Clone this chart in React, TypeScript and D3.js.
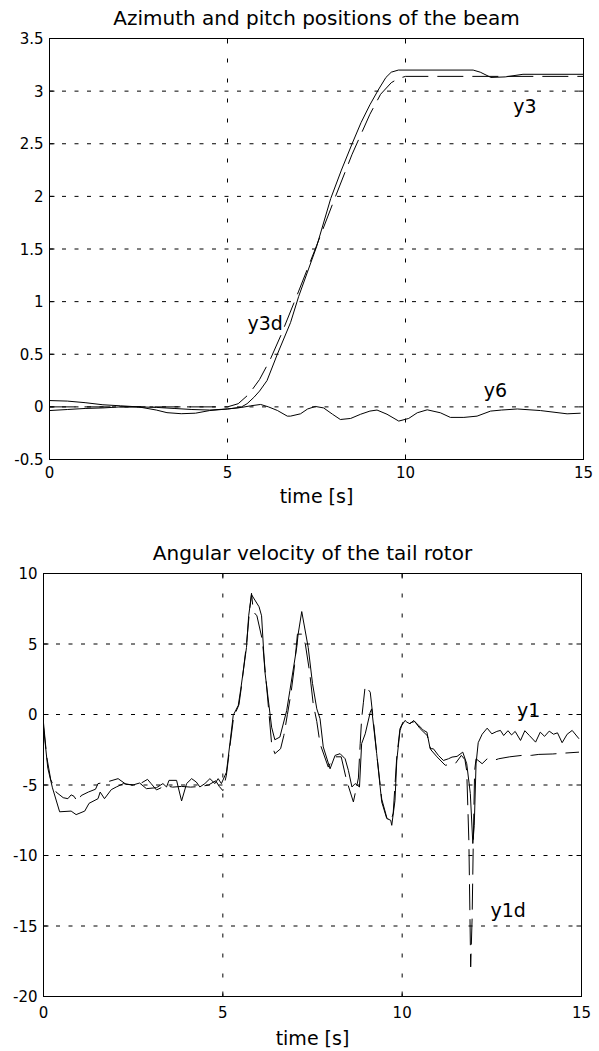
import React from "react";
import * as d3 from "d3";

type Pt = [number, number];

// ---------- data ----------
const timeTicks = [0, 5, 10, 15];
const timeTickLabels = ["0", "5", "10", "15"];
const posTicks = [-0.5, 0, 0.5, 1, 1.5, 2, 2.5, 3, 3.5];
const posTickLabels = ["-0.5", "0", "0.5", "1", "1.5", "2", "2.5", "3", "3.5"];
const velTicks = [-20, -15, -10, -5, 0, 5, 10];
const velTickLabels = ["-20", "-15", "-10", "-5", "0", "5", "10"];

const topTitle = "Azimuth and pitch positions of the beam";
const bottomTitle = "Angular velocity of the tail rotor";
const xAxisLabel = "time [s]";

// azimuth (y3, measured) [time, rad]
const y3: Pt[] = [
  [0, 0.06], [0.5, 0.055], [1, 0.04], [1.5, 0.02], [2, 0.01], [2.5, 0.0], [3, -0.03],
  [3.3, -0.055], [3.7, -0.065], [4.1, -0.06], [4.5, -0.035], [5, -0.02], [5.37, -0.005],
  [5.55, 0.03], [5.74, 0.09], [5.9, 0.15], [6.11, 0.25], [6.4, 0.5], [6.77, 0.8],
  [7.0, 1.05], [7.5, 1.52], [7.9, 1.98], [8.2, 2.25], [8.5, 2.5], [8.75, 2.7],
  [9.0, 2.87], [9.25, 3.02], [9.45, 3.13], [9.6, 3.18], [9.8, 3.2], [11.9, 3.2],
  [12.1, 3.18], [12.4, 3.13], [12.8, 3.135], [13.3, 3.16], [15, 3.16],
];

// azimuth reference (y3d)
const y3d: Pt[] = [
  [0, 0], [5, 0], [5.3, 0.03], [5.6, 0.12], [5.9, 0.26], [6.2, 0.45], [6.5, 0.68],
  [7, 1.1], [7.5, 1.53], [8, 1.97], [8.5, 2.4], [9, 2.78], [9.3, 2.97], [9.6, 3.08],
  [9.8, 3.12], [10, 3.14], [15, 3.14],
];

// pitch (y6)
const y6: Pt[] = [
  [0, -0.035], [0.5, -0.025], [1, -0.015], [1.5, -0.01], [2, 0.0], [2.5, 0.0], [3, -0.005],
  [3.5, -0.015], [4, -0.025], [4.5, -0.03], [5, -0.02], [5.4, -0.005], [5.65, 0.01],
  [5.93, 0.023], [6.15, 0.0], [6.4, -0.034], [6.68, -0.088], [6.77, -0.088], [7.05, -0.066],
  [7.25, -0.02], [7.47, 0.004], [7.7, -0.01], [7.95, -0.07], [8.17, -0.12], [8.46, -0.11],
  [8.74, -0.07], [9.0, -0.04], [9.2, -0.03], [9.48, -0.07], [9.81, -0.135], [10.09, -0.11],
  [10.33, -0.056], [10.61, -0.028], [10.98, -0.056], [11.26, -0.1], [11.64, -0.1],
  [12.01, -0.088], [12.39, -0.04], [12.7, -0.03], [13.14, -0.02], [13.79, -0.035],
  [14.54, -0.066], [14.92, -0.06],
];

// tail rotor angular velocity (y1, measured)
const y1: Pt[] = [
  [0, -0.9], [0.12, -3.8], [0.25, -5.2], [0.45, -6.9], [0.77, -6.85], [0.91, -7.1],
  [1.15, -6.85], [1.27, -6.3], [1.52, -5.97], [1.58, -5.5], [1.7, -5.97], [1.89, -5.33],
  [2.03, -5.14], [2.23, -4.9], [2.49, -5.0], [2.68, -4.86], [2.87, -5.26], [3.15, -5.19],
  [3.33, -4.9], [3.43, -5.14], [3.5, -4.67], [3.71, -4.67], [3.85, -6.13], [3.99, -4.9],
  [4.13, -4.55], [4.26, -4.79], [4.36, -5.14], [4.5, -4.9], [4.64, -4.55], [4.78, -4.9],
  [4.87, -4.55], [4.96, -4.9], [5.1, -4.1], [5.2, -2.0], [5.29, -0.05], [5.43, 0.64],
  [5.5, 1.8], [5.66, 4.76], [5.72, 7.0], [5.8, 8.5], [6.01, 7.64], [6.08, 7.0],
  [6.17, 3.1], [6.36, -0.9], [6.45, -1.79], [6.59, -1.6], [6.78, 0.28], [6.87, 1.7],
  [7.06, 4.76], [7.1, 5.7], [7.2, 7.3], [7.38, 4.76], [7.5, 2.2], [7.62, 0.4],
  [7.71, -0.3], [7.8, -2.3], [7.99, -3.85], [8.13, -2.9], [8.27, -2.78], [8.41, -3.14],
  [8.5, -3.96], [8.6, -5.14], [8.69, -4.9], [8.81, -5.14], [8.87, -2.07], [8.97, -1.37],
  [9.11, 0.16], [9.15, 0.4], [9.29, -2.78], [9.43, -6.2], [9.57, -7.38], [9.68, -7.5],
  [9.71, -7.86], [9.8, -6.1], [9.85, -3.26], [9.94, -1.13], [9.99, -0.78], [10.08, -0.42],
  [10.13, -0.54], [10.22, -0.66], [10.32, -0.42], [10.46, -0.78], [10.55, -1.0],
  [10.6, -1.13], [10.69, -1.25], [10.78, -2.43], [10.87, -2.43], [11.01, -2.9],
  [11.15, -3.26], [11.29, -3.14], [11.39, -3.02], [11.53, -2.97], [11.69, -2.67],
  [11.8, -3.49], [11.9, -5.6], [11.97, -9.15], [12.01, -7.86], [12.06, -3.5], [12.12, -2.0],
  [12.23, -1.4], [12.37, -0.97], [12.5, -1.37], [12.64, -1.2], [12.74, -1.13],
  [12.83, -1.49], [12.95, -1.15], [13.05, -1.45], [13.15, -1.2], [13.3, -1.84],
  [13.42, -1.15], [13.55, -1.5], [13.72, -1.96], [13.85, -1.25], [13.97, -1.55],
  [14.1, -1.18], [14.22, -1.4], [14.33, -1.3], [14.46, -2.0], [14.6, -1.4], [14.74, -1.13],
  [14.93, -1.72],
];

// tail rotor reference (y1d)
const y1d: Pt[] = [
  [0, -0.6], [0.09, -3.0], [0.2, -4.6], [0.35, -5.5], [0.55, -5.9], [0.68, -5.97],
  [0.77, -5.7], [0.85, -5.8], [0.95, -6.2], [1.05, -5.75], [1.25, -5.5], [1.45, -5.3],
  [1.52, -4.9], [1.75, -4.8], [2.08, -4.55], [2.3, -4.95], [2.5, -5.0], [2.7, -4.9],
  [2.9, -4.6], [3.0, -4.9], [3.15, -5.35], [3.4, -5.05], [3.6, -5.15], [3.85, -5.1],
  [4.1, -5.15], [4.4, -5.1], [4.6, -5.0], [4.8, -4.7], [4.9, -5.1], [5.0, -5.4],
  [5.1, -4.3], [5.2, -2.2], [5.3, -0.2], [5.45, 0.7], [5.52, 2.0], [5.66, 5.0],
  [5.75, 7.5], [5.8, 8.6], [5.85, 7.3], [5.95, 7.0], [6.1, 5.3], [6.2, 2.6],
  [6.36, -2.07], [6.45, -2.78], [6.61, -2.43], [6.7, -1.5], [6.8, 0.0], [6.9, 1.5],
  [7.0, 3.5], [7.08, 5.7], [7.2, 5.7], [7.3, 5.0], [7.42, 3.0], [7.52, 0.75],
  [7.62, -0.5], [7.71, -2.07], [7.94, -3.73], [8.05, -3.2], [8.15, -3.0], [8.3, -3.0],
  [8.45, -4.67], [8.64, -6.2], [8.78, -4.5], [8.83, -2.07], [8.87, -0.3], [8.92, 0.87],
  [8.97, 2.05], [9.11, 1.58], [9.2, -0.5], [9.3, -3.0], [9.43, -6.0], [9.57, -7.3],
  [9.68, -7.6], [9.75, -7.0], [9.85, -3.0], [9.94, -1.0], [10.05, -0.4], [10.2, -0.6],
  [10.35, -0.5], [10.5, -1.0], [10.7, -1.5], [10.8, -2.5], [10.97, -3.0], [11.2, -3.6],
  [11.48, -3.49], [11.65, -2.9], [11.75, -3.2], [11.8, -4.0], [11.86, -9.0],
  [11.91, -17.9], [11.95, -14.5], [11.98, -9.5], [12.02, -4.0], [12.06, -3.14],
  [12.23, -3.49], [12.37, -3.14], [12.55, -3.26], [12.69, -3.14], [13.0, -3.0],
  [13.34, -2.9], [13.6, -2.9], [13.81, -2.83], [14.2, -2.8], [14.51, -2.74], [14.93, -2.67],
];

// curve annotations [text, time, value]
const topLabels: [string, number, number][] = [
  ["y3", 13.03, 2.79],
  ["y3d", 5.56, 0.735],
  ["y6", 12.2, 0.092],
];
const bottomLabels: [string, number, number][] = [
  ["y1", 13.2, -0.18],
  ["y1d", 12.46, -14.35],
];

// ---------- layout / style ----------
const FONT = "'DejaVu Sans', 'Liberation Sans', sans-serif";
const DASH = "26 9";

type Box = { left: number; right: number; top: number; bottom: number };

interface PanelProps {
  box: Box;
  yDomain: [number, number];
  yTicks: number[];
  yTickLabels: string[];
  title: string;
  titleY: number;
  xTickLabelY: number;
  xLabelY: number;
  solid: Pt[][];
  dashed: Pt[][];
  labels: [string, number, number][];
}

function Panel(p: PanelProps) {
  const { box } = p;
  const x = d3.scaleLinear().domain([0, 15]).range([box.left, box.right]);
  const y = d3.scaleLinear().domain(p.yDomain).range([box.bottom, box.top]);
  const line = d3
    .line<Pt>()
    .x((d) => x(d[0]))
    .y((d) => y(d[1]));
  const cx = (box.left + box.right) / 2;
  const tickLen = 5;
  const innerY = p.yTicks.filter((t) => t > p.yDomain[0] && t < p.yDomain[1]);
  const innerX = timeTicks.filter((t) => t > 0 && t < 15);
  return (
    <g>
      {innerY.map((t) => (
        <line
          key={"gy" + t}
          x1={box.left}
          x2={box.right}
          y1={y(t)}
          y2={y(t)}
          stroke="#000"
          strokeWidth={1}
          strokeDasharray="4 8.5"
        />
      ))}
      {innerX.map((t) => (
        <line
          key={"gx" + t}
          x1={x(t)}
          x2={x(t)}
          y1={box.top}
          y2={box.bottom}
          stroke="#000"
          strokeWidth={1}
          strokeDasharray="4 16"
        />
      ))}
      {p.dashed.map((s, i) => (
        <path key={"d" + i} d={line(s) || ""} fill="none" stroke="#000" strokeWidth={1} strokeDasharray={DASH} />
      ))}
      {p.solid.map((s, i) => (
        <path key={"s" + i} d={line(s) || ""} fill="none" stroke="#000" strokeWidth={1} />
      ))}
      <rect
        x={box.left}
        y={box.top}
        width={box.right - box.left}
        height={box.bottom - box.top}
        fill="none"
        stroke="#000"
        strokeWidth={1}
      />
      {p.yTicks.map((t) => (
        <g key={"ty" + t}>
          <line x1={box.left} x2={box.left + tickLen} y1={y(t)} y2={y(t)} stroke="#000" />
          <line x1={box.right} x2={box.right - tickLen} y1={y(t)} y2={y(t)} stroke="#000" />
        </g>
      ))}
      {timeTicks.map((t) => (
        <g key={"tx" + t}>
          <line x1={x(t)} x2={x(t)} y1={box.bottom} y2={box.bottom - tickLen} stroke="#000" />
          <line x1={x(t)} x2={x(t)} y1={box.top} y2={box.top + tickLen} stroke="#000" />
        </g>
      ))}
      {p.yTicks.map((t, i) => (
        <text
          key={"ly" + t}
          x={box.left - 6}
          y={y(t) + 5.5}
          textAnchor="end"
          fontSize={15}
          fontFamily={FONT}
          fill="#000"
        >
          {p.yTickLabels[i]}
        </text>
      ))}
      {timeTicks.map((t, i) => (
        <text
          key={"lx" + t}
          x={x(t)}
          y={p.xTickLabelY}
          textAnchor="middle"
          fontSize={15}
          fontFamily={FONT}
          fill="#000"
        >
          {timeTickLabels[i]}
        </text>
      ))}
      <text x={cx} y={p.titleY} textAnchor="middle" fontSize={20} fontFamily={FONT} fill="#000">
        {p.title}
      </text>
      <text x={cx} y={p.xLabelY} textAnchor="middle" fontSize={19} fontFamily={FONT} fill="#000">
        {xAxisLabel}
      </text>
      {p.labels.map(([s, t, v]) => (
        <text key={"a" + s} x={x(t)} y={y(v)} fontSize={19} fontFamily={FONT} fill="#000">
          {s}
        </text>
      ))}
    </g>
  );
}

export default function App() {
  return (
    <svg
      width={599}
      height={1051}
      viewBox="0 0 599 1051"
      style={{ position: "absolute", left: 0, top: 0, display: "block", background: "#fff" }}
    >
      <rect x={0} y={0} width={599} height={1051} fill="#fff" />
      <Panel
        box={{ left: 49.5, right: 583.5, top: 38.5, bottom: 459.5 }}
        yDomain={[-0.5, 3.5]}
        yTicks={posTicks}
        yTickLabels={posTickLabels}
        title={topTitle}
        titleY={24.5}
        xTickLabelY={478}
        xLabelY={503}
        solid={[y3, y6]}
        dashed={[y3d]}
        labels={topLabels}
      />
      <Panel
        box={{ left: 43.5, right: 581.5, top: 573.5, bottom: 996.5 }}
        yDomain={[-20, 10]}
        yTicks={velTicks}
        yTickLabels={velTickLabels}
        title={bottomTitle}
        titleY={560}
        xTickLabelY={1018}
        xLabelY={1045}
        solid={[y1]}
        dashed={[y1d]}
        labels={bottomLabels}
      />
    </svg>
  );
}
